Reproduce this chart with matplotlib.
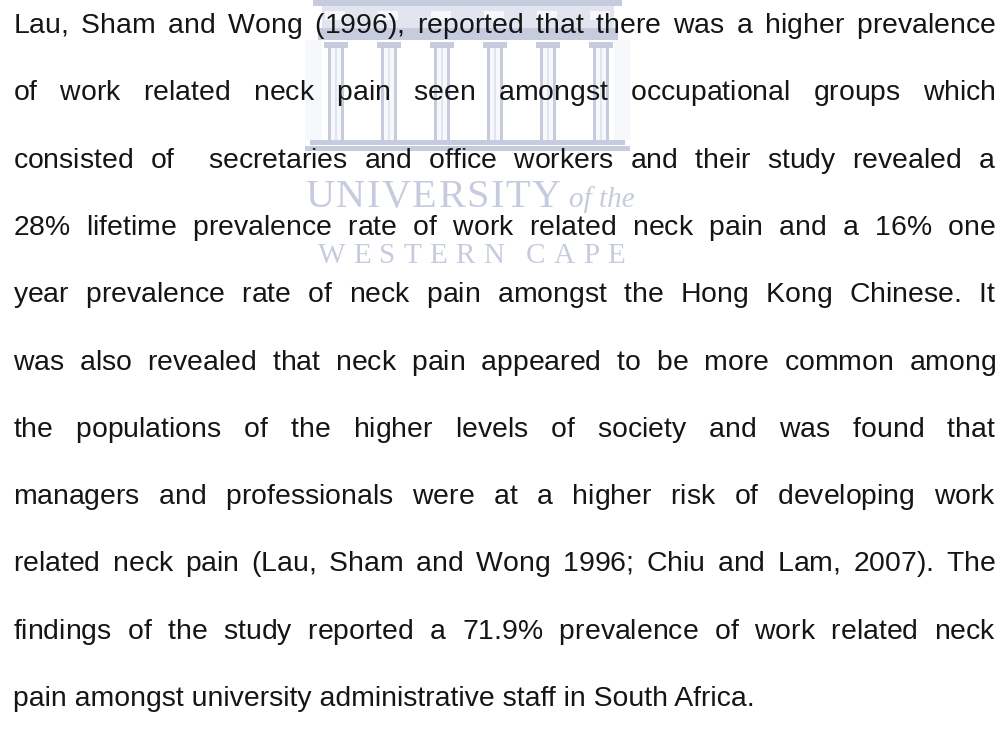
"""
Justified paragraph with a faint university watermark behind it
"""

#%%
import re
import matplotlib.pyplot as plt
from matplotlib.patches import Rectangle

plt.rcParams['font.family'] = ['Liberation Sans', 'DejaVu Sans']

#%%

#Paragraph lines, as broken in the reference (last line is not justified)

lines = ["Lau, Sham and Wong (1996), reported that there was a higher prevalence",
         "of work related neck pain seen amongst occupational groups which",
         "consisted of  secretaries and office workers and their study revealed a",
         "28% lifetime prevalence rate of work related neck pain and a 16% one",
         "year prevalence rate of neck pain amongst the Hong Kong Chinese. It",
         "was also revealed that neck pain appeared to be more common among",
         "the populations of the higher levels of society and was found that",
         "managers and professionals were at a higher risk of developing work",
         "related neck pain (Lau, Sham and Wong 1996; Chiu and Lam, 2007). The",
         "findings of the study reported a 71.9% prevalence of work related neck",
         "pain amongst university administrative staff in South Africa."]

wm_top = "UNIVERSITY"
wm_small = "of the"
wm_bottom = "WESTERN CAPE"

#%%

W, H = 1007, 732
left_edge, right_edge = 13, 996
first_base, line_step = 33, 67.3
font_size = 20.4

ink = '#151515'
mark = '#c6cbdd'
mark_light = '#e2e5ef'
mark_faint = '#f7f8fb'

fig = plt.figure(figsize=(W / 100, H / 100), dpi=100)
ax = fig.add_axes([0, 0, 1, 1])
ax.set_xlim(0, W)
ax.set_ylim(H, 0)
ax.axis('off')
renderer = fig.canvas.get_renderer()

#%%

#Watermark: the building

def box(x0, y0, x1, y1, color):
    ax.add_patch(Rectangle((x0, y0), x1 - x0, y1 - y0, color=color, lw=0, zorder=0))

box(305, 40, 322, 140, mark_faint)
box(614, 40, 630, 140, mark_faint)
box(313, 0, 622, 6, mark)
box(322, 6, 614, 28, mark_light)
for bx in range(335, 610, 53):
    box(bx - 10, 11, bx + 10, 20, mark_faint)
box(318, 28, 618, 40, mark)
for cx in range(336, 610, 53):
    box(cx - 12, 42, cx + 12, 48, mark)
    box(cx - 8, 48, cx + 8, 140, mark_faint)
    box(cx - 8, 48, cx - 5, 140, mark)
    box(cx + 5, 48, cx + 8, 140, mark)
    box(cx - 1, 48, cx + 1, 140, mark_light)
box(310, 140, 625, 145, mark)
box(305, 146, 630, 151, mark)

#Watermark: the lettering, letter spaced

def spaced(x, y, s, tracking, **kw):
    for ch in s:
        t = ax.text(x, y, ch, color=mark, va='baseline', ha='left', zorder=0, **kw)
        x += (t.get_window_extent(renderer).width if ch != ' ' else 6) + tracking
    return x

end = spaced(305, 207, wm_top, 1.6, family='Liberation Serif', fontsize=29)
ax.text(end + 6, 207, wm_small, family='Liberation Serif', style='italic', fontsize=21,
        color=mark, va='baseline', ha='left', zorder=0)
spaced(318, 263, wm_bottom, 8.1, family='Liberation Serif', fontsize=21)

#%%

#Paragraph: each justified line is one text, word gaps set with \hspace

def joined(parts, g):
    out = parts[0]
    for k in range(1, len(parts), 2):
        out += r'$\hspace{%.4f}$' % (g * len(parts[k])) + parts[k + 1]
    return out

for i, line in enumerate(lines):
    y = first_base + i * line_step
    if i == len(lines) - 1:
        ax.text(left_edge, y, line, fontsize=font_size, color=ink, va='baseline', ha='left')
        continue
    parts = re.split(r'( +)', line)
    t = ax.text(left_edge, y, joined(parts, 0.0), fontsize=font_size, color=ink,
                va='baseline', ha='left')
    w0 = t.get_window_extent(renderer).width
    t.set_text(joined(parts, 1.0))
    w1 = t.get_window_extent(renderer).width
    t.set_text(joined(parts, (right_edge - left_edge - w0) / (w1 - w0)))

fig.savefig('out.png', dpi=100)
